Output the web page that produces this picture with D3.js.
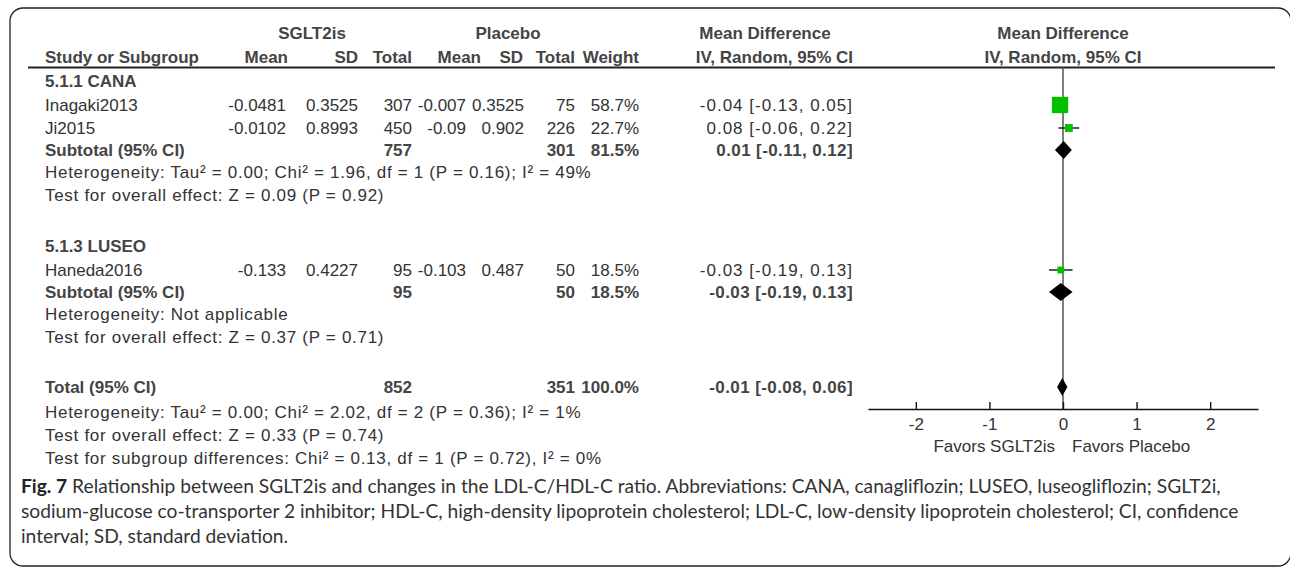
<!DOCTYPE html>
<html>
<head>
<meta charset="utf-8">
<script src="https://cdn.jsdelivr.net/npm/d3@7"></script>
<style>
  html, body { margin: 0; padding: 0; background: #fff; }
  svg { display: block; }
</style>
</head>
<body>
<svg id="chart" width="1290" height="567"></svg>
<script>
// ─── Data ────────────────────────────────────────────────────────────────────

const subgroups   = ['5.1.1 CANA', '5.1.3 LUSEO'];
const studyNames  = ['Inagaki2013', 'Ji2015', 'Haneda2016'];
const studyGroup  = [0, 0, 1];

const expMean = [-0.0481, -0.0102, -0.133];
const expSD   = [0.3525, 0.8993, 0.4227];
const expN    = [307, 450, 95];
const ctlMean = [-0.007, -0.09, -0.103];
const ctlSD   = [0.3525, 0.902, 0.487];
const ctlN    = [75, 226, 50];
const weights = [58.7, 22.7, 18.5];
const md      = [-0.04, 0.08, -0.03];
const mdLo    = [-0.13, -0.06, -0.19];
const mdHi    = [0.05, 0.22, 0.13];

const subExpN   = [757, 95];
const subCtlN   = [301, 50];
const subWeight = [81.5, 18.5];
const subMd     = [0.01, -0.03];
const subLo     = [-0.11, -0.19];
const subHi     = [0.12, 0.13];
const subStats  = [
  ['Heterogeneity: Tau² = 0.00; Chi² = 1.96, df = 1 (P = 0.16); I² = 49%',
   'Test for overall effect: Z = 0.09 (P = 0.92)'],
  ['Heterogeneity: Not applicable',
   'Test for overall effect: Z = 0.37 (P = 0.71)']
];

const totalExpN   = 852;
const totalCtlN   = 351;
const totalWeight = 100.0;
const totalMd     = -0.01;
const totalLo     = -0.08;
const totalHi     = 0.06;
const totalStats  = [
  'Heterogeneity: Tau² = 0.00; Chi² = 2.02, df = 2 (P = 0.36); I² = 1%',
  'Test for overall effect: Z = 0.33 (P = 0.74)',
  'Test for subgroup differences: Chi² = 0.13, df = 1 (P = 0.72), I² = 0%'
];

const axisTicks   = [-2, -1, 0, 1, 2];
const favorsLeft  = 'Favors SGLT2is';
const favorsRight = 'Favors Placebo';

const captionLines = [
  ['Fig. 7', ' Relationship between SGLT2is and changes in the LDL-C/HDL-C ratio. Abbreviations: CANA, canagliflozin; LUSEO, luseogliflozin; SGLT2i,'],
  ['', 'sodium-glucose co-transporter 2 inhibitor; HDL-C, high-density lipoprotein cholesterol; LDL-C, low-density lipoprotein cholesterol; CI, confidence'],
  ['', 'interval; SD, standard deviation.']
];

// ─── Theme / layout ──────────────────────────────────────────────────────────

const theme = {
  font: '"Liberation Sans", Arial, sans-serif',
  captionFont: 'Lato, "Open Sans", sans-serif',
  fontSize: 17,
  boldSize: 17,
  text: '#333',
  bold: '#444',
  green: '#00c000',
  zero: '#555'
};

// right edge of each numeric column (values / headers)
const col = {
  label: 45, expMean: 286, expSD: 358, expN: 412,
  ctlMean: 466, ctlSD: 524, ctlN: 575, weight: 639, ci: 853
};
const headCol = { ...col, expMean: 288, ctlMean: 481, ctlSD: 523 };

// hyphen minus, as in the original plot
const locale = d3.formatLocale({ decimal: '.', thousands: ',', grouping: [3], currency: ['', ''], minus: '-' });
const fmt2  = locale.format('.2f');
const fmtW  = d => locale.format('.1f')(d) + '%';
const fmtCI = (m, l, h) => `${fmt2(m)} [${fmt2(l)}, ${fmt2(h)}]`;

// ─── Row model ───────────────────────────────────────────────────────────────

const rows = [];
subgroups.forEach((g, gi) => {
  rows.push({ kind: 'group', label: g });
  studyNames.forEach((s, i) => {
    if (studyGroup[i] === gi) rows.push({ kind: 'study', i });
  });
  rows.push({ kind: 'subtotal', gi });
  subStats[gi].forEach(t => rows.push({ kind: 'stat', text: t }));
});
rows.push({ kind: 'total' });
totalStats.forEach(t => rows.push({ kind: 'stat', text: t }));

// vertical gap between consecutive row kinds
const gap = (a, b) => {
  if (a === 'group') return 24;
  if (a === 'study') return b === 'study' ? 23 : 22;
  if (a === 'subtotal') return 22;
  if (a === 'total') return 25;
  if (b === 'group') return 51;
  if (b === 'total') return 50;
  return 23;
};
let yCursor = 81;
rows.forEach((r, k) => {
  if (k > 0) yCursor += gap(rows[k - 1].kind, r.kind);
  r.y = yCursor;
});

// ─── SVG ─────────────────────────────────────────────────────────────────────

const svg = d3.select('#chart');

// panel frame — right edge falls just outside the picture
svg.append('rect')
  .attr('x', 10).attr('y', 8)
  .attr('width', 1281).attr('height', 558)
  .attr('rx', 13)
  .attr('fill', 'none')
  .attr('stroke', '#222')
  .attr('stroke-width', 1.3);

const table = svg.append('g')
  .style('font-family', theme.font);

function cell(g, x, y, text, opts = {}) {
  g.append('text')
    .attr('x', x).attr('y', y)
    .attr('dy', '0.35em')
    .attr('text-anchor', opts.anchor || 'end')
    .attr('fill', opts.bold ? theme.bold : theme.text)
    .style('font-size', (opts.bold ? theme.boldSize : theme.fontSize) + 'px')
    .style('font-weight', opts.bold ? 'bold' : 'normal')
    .style('letter-spacing', (opts.spacing || 0) + 'px')
    .text(text);
}

// ─── Header ──────────────────────────────────────────────────────────────────

const hy1 = 33, hy2 = 57, lineY = 67.5;

cell(table, 312, hy1, 'SGLT2is', { bold: true, anchor: 'middle' });
cell(table, 508, hy1, 'Placebo', { bold: true, anchor: 'middle' });
cell(table, 765, hy1, 'Mean Difference', { bold: true, anchor: 'middle' });

cell(table, col.label, hy2, 'Study or Subgroup', { bold: true, anchor: 'start' });
[['expMean', 'Mean'], ['expSD', 'SD'], ['expN', 'Total'],
 ['ctlMean', 'Mean'], ['ctlSD', 'SD'], ['ctlN', 'Total'],
 ['weight', 'Weight'], ['ci', 'IV, Random, 95% CI']]
  .forEach(([k, t]) => cell(table, headCol[k], hy2, t, { bold: true }));

svg.append('line')
  .attr('x1', 28).attr('x2', 1275)
  .attr('y1', lineY).attr('y2', lineY)
  .attr('stroke', '#222')
  .attr('stroke-width', 1.8);

// ─── Table body ──────────────────────────────────────────────────────────────

const ciSpacing = 1.0, statSpacing = 0.7;

rows.forEach(r => {
  if (r.kind === 'group') {
    cell(table, col.label, r.y, r.label, { bold: true, anchor: 'start' });
  } else if (r.kind === 'study') {
    const i = r.i;
    cell(table, col.label, r.y, studyNames[i], { anchor: 'start' });
    cell(table, col.expMean, r.y, String(expMean[i]));
    cell(table, col.expSD, r.y, String(expSD[i]));
    cell(table, col.expN, r.y, String(expN[i]));
    cell(table, col.ctlMean, r.y, String(ctlMean[i]));
    cell(table, col.ctlSD, r.y, String(ctlSD[i]));
    cell(table, col.ctlN, r.y, String(ctlN[i]));
    cell(table, col.weight, r.y, fmtW(weights[i]));
    cell(table, col.ci, r.y, fmtCI(md[i], mdLo[i], mdHi[i]), { spacing: ciSpacing });
  } else if (r.kind === 'subtotal') {
    const gi = r.gi;
    cell(table, col.label, r.y, 'Subtotal (95% CI)', { bold: true, anchor: 'start' });
    cell(table, col.expN, r.y, String(subExpN[gi]), { bold: true });
    cell(table, col.ctlN, r.y, String(subCtlN[gi]), { bold: true });
    cell(table, col.weight, r.y, fmtW(subWeight[gi]), { bold: true });
    cell(table, col.ci, r.y, fmtCI(subMd[gi], subLo[gi], subHi[gi]), { bold: true, spacing: 0.4 });
  } else if (r.kind === 'total') {
    cell(table, col.label, r.y, 'Total (95% CI)', { bold: true, anchor: 'start' });
    cell(table, col.expN, r.y, String(totalExpN), { bold: true });
    cell(table, col.ctlN, r.y, String(totalCtlN), { bold: true });
    cell(table, col.weight, r.y, fmtW(totalWeight), { bold: true });
    cell(table, col.ci, r.y, fmtCI(totalMd, totalLo, totalHi), { bold: true, spacing: 0.4 });
  } else {
    cell(table, col.label, r.y, r.text, { anchor: 'start', spacing: statSpacing });
  }
});

// ─── Forest plot ─────────────────────────────────────────────────────────────

const x = d3.scaleLinear().domain([-2.65, 2.65]).range([868, 1258]);
const boxSize = d3.scaleLinear().domain([0, 100]).range([2.5, 26]);
const axisY = 409;
const diamondH = 9;

const plot = svg.append('g');

cell(table, x(0), hy1, 'Mean Difference', { bold: true, anchor: 'middle' });
cell(table, x(0), hy2, 'IV, Random, 95% CI', { bold: true, anchor: 'middle' });

plot.append('line')
  .attr('x1', x(0)).attr('x2', x(0))
  .attr('y1', lineY).attr('y2', axisY)
  .attr('stroke', theme.zero)
  .attr('stroke-width', 1.5);

const studyRows = rows.filter(r => r.kind === 'study');

plot.selectAll('.ci-line')
  .data(studyRows)
  .join('line')
  .attr('class', 'ci-line')
  .attr('x1', r => x(mdLo[r.i])).attr('x2', r => x(mdHi[r.i]))
  .attr('y1', r => r.y).attr('y2', r => r.y)
  .attr('stroke', '#111')
  .attr('stroke-width', 1.4);

plot.selectAll('.box')
  .data(studyRows)
  .join('rect')
  .attr('class', 'box')
  .attr('x', r => x(md[r.i]) - boxSize(weights[r.i]) / 2)
  .attr('y', r => r.y - boxSize(weights[r.i]) / 2)
  .attr('width', r => boxSize(weights[r.i]))
  .attr('height', r => boxSize(weights[r.i]))
  .attr('fill', theme.green);

const pooled = rows
  .filter(r => r.kind === 'subtotal' || r.kind === 'total')
  .map(r => r.kind === 'total'
    ? { y: r.y, m: totalMd, l: totalLo, h: totalHi }
    : { y: r.y, m: subMd[r.gi], l: subLo[r.gi], h: subHi[r.gi] });

plot.selectAll('.diamond')
  .data(pooled)
  .join('path')
  .attr('class', 'diamond')
  .attr('d', d => `M${x(d.l)},${d.y}L${x(d.m)},${d.y - diamondH}L${x(d.h)},${d.y}L${x(d.m)},${d.y + diamondH}Z`)
  .attr('fill', '#000');

// ─── Axis ────────────────────────────────────────────────────────────────────

plot.append('g')
  .attr('transform', `translate(0,${axisY})`)
  .call(d3.axisBottom(x).tickValues(axisTicks).tickSize(-7).tickSizeOuter(0)
    .tickPadding(9).tickFormat(d => String(d)))
  .call(sel => {
    sel.select('.domain').attr('stroke', '#111').attr('stroke-width', 1.4);
    sel.selectAll('line').attr('stroke', '#111').attr('stroke-width', 1.4);
    sel.selectAll('text')
      .attr('fill', theme.text)
      .style('font-family', theme.font)
      .style('font-size', theme.fontSize + 'px');
  });

cell(table, x(0) - 8, 446, favorsLeft, {});
cell(table, x(0) + 9, 446, favorsRight, { anchor: 'start' });

// ─── Caption ─────────────────────────────────────────────────────────────────

const caption = svg.append('g')
  .style('font-family', theme.captionFont)
  .style('font-size', '19.2px')
  .attr('fill', '#333');

captionLines.forEach(([lead, rest], k) => {
  const t = caption.append('text')
    .attr('x', 21).attr('y', 486 + k * 25)
    .attr('dy', '0.35em');
  if (lead) t.append('tspan').style('font-weight', 'bold').attr('fill', '#222').text(lead);
  t.append('tspan').text(rest);
});
</script>
</body>
</html>
